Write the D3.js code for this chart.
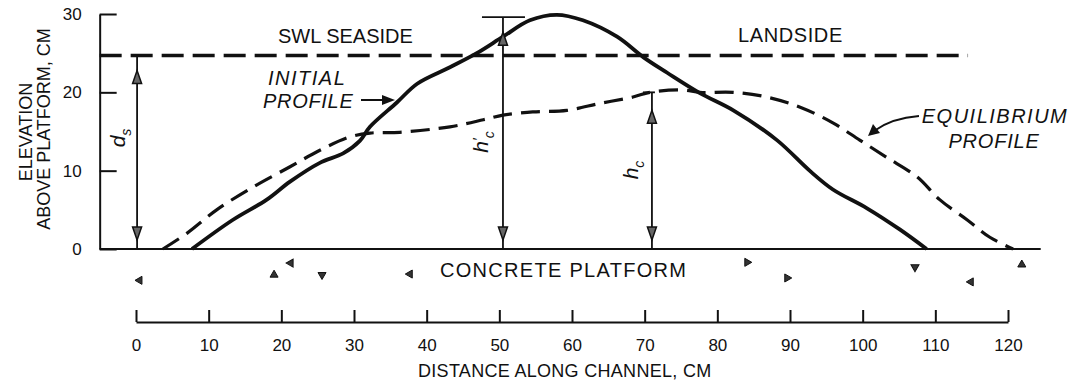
<!DOCTYPE html>
<html>
<head>
<meta charset="utf-8">
<script src="https://cdn.jsdelivr.net/npm/d3@7"></script>
<style>
  body { margin: 0; background: #fff; }
  svg { display: block; font-family: "Liberation Sans", Arial, sans-serif; }
</style>
</head>
<body>
<div id="chart"></div>
<script>
/* Breakwater profile on concrete platform */

const width = 1072, height = 382;

// initial profile (solid), distance cm / elevation cm
const initialX = [7.7, 13.3, 18.0, 21.2, 25.3, 28.5, 30.8, 32.2, 35.9, 38.7, 43.2, 46.9, 50.5, 54.2, 57.9, 61.5, 66.2, 69.8, 73.1, 77.6, 82.2, 88.2, 92.7, 95.9, 100.6, 105.1, 108.8];
const initialY = [0, 3.7, 6.3, 8.6, 11.0, 12.2, 13.8, 15.6, 18.7, 21.1, 23.2, 25.0, 27.1, 29.2, 29.9, 29.2, 27.1, 24.5, 22.5, 19.9, 17.7, 13.9, 10.0, 7.6, 5.2, 2.5, 0];

// equilibrium profile (dashed)
const equilX = [3.7, 7.0, 11.1, 16.1, 21.2, 25.3, 29.4, 32.2, 36.3, 43.2, 47.8, 50.5, 54.6, 59.3, 63.9, 68.4, 70.7, 75.3, 77.6, 82.2, 86.8, 91.4, 95.9, 99.6, 103.3, 107.5, 110.6, 114.4, 117.5, 120.7];
const equilY = [0, 2.0, 5.0, 7.9, 10.5, 12.6, 14.3, 14.8, 14.9, 15.6, 16.5, 17.1, 17.5, 17.7, 18.6, 19.4, 20.0, 20.3, 20.0, 20.0, 19.4, 18.1, 16.1, 13.9, 11.7, 9.2, 6.3, 3.7, 1.5, 0];

// still water level
const swlLevel = 24.7;
const swlExtent = [-5, 114.5];

// dimension arrows: d_s, h'_c, h_c
const dimX = [0.15, 50.5, 71.0];
const dimTop = [swlLevel, 29.6, 20.0];

// concrete aggregate marks under the platform
const aggX = [0.5, 19, 21.3, 25.6, 37.7, 84.1, 89.6, 107.2, 114.9, 121.9];
const aggY = [-4.0, -3.3, -1.8, -3.3, -3.2, -1.7, -3.7, -2.3, -4.2, -2.0];
const aggRot = [-90, 0, 150, 180, -90, 90, 90, -60, -90, 0];

const xTicks = [0, 10, 20, 30, 40, 50, 60, 70, 80, 90, 100, 110, 120];
const yTicks = [0, 10, 20, 30];

const svg = d3.select("#chart")
  .append("svg")
  .attr("width", width)
  .attr("height", height);

let x = d3.scaleLinear().domain([0, 120]).range([136, 1008]);
let y = d3.scaleLinear().domain([0, 30]).range([249, 14]);

const ink = "#111";

/* Axes */
svg.append("g")
  .attr("transform", `translate(${x(-5)},0)`)
  .call(d3.axisLeft(y).tickValues(yTicks).tickSizeInner(-17).tickSizeOuter(0).tickPadding(18))
  .call(g => g.attr("font-family", null).attr("font-size", 17))
  .call(g => g.selectAll("line,path").attr("stroke", ink).attr("stroke-width", 2))
  .call(g => g.selectAll("text").attr("fill", ink));

// platform line
svg.append("line")
  .attr("x1", x(-5)).attr("x2", x(124.5))
  .attr("y1", y(0)).attr("y2", y(0))
  .attr("stroke", ink).attr("stroke-width", 2.2);

svg.append("g")
  .attr("transform", `translate(0,322)`)
  .call(d3.axisBottom(x).tickValues(xTicks).tickSizeInner(-12).tickSizeOuter(0).tickPadding(17))
  .call(g => g.attr("font-family", null).attr("font-size", 17))
  .call(g => g.selectAll("line,path").attr("stroke", ink).attr("stroke-width", 2))
  .call(g => g.selectAll("text").attr("fill", ink));

/* Axis titles */
const yTitle = svg.append("g").attr("font-size", 18).attr("fill", ink).attr("text-anchor", "middle");
yTitle.append("text").attr("transform", "translate(32,132) rotate(-90)").text("ELEVATION");
yTitle.append("text").attr("transform", "translate(50,129) rotate(-90)").text("ABOVE PLATFORM, CM");

svg.append("text")
  .attr("x", 418).attr("y", 377)
  .attr("font-size", 18).attr("letter-spacing", 0.3).attr("fill", ink)
  .text("DISTANCE ALONG CHANNEL, CM");

/* SWL line */
svg.append("line")
  .attr("x1", x(swlExtent[0])).attr("x2", x(swlExtent[1]))
  .attr("y1", y(swlLevel)).attr("y2", y(swlLevel))
  .attr("stroke", ink).attr("stroke-width", 3.5)
  .attr("stroke-dasharray", "22 9");

/* Profiles */
let line = d3.line()
  .x(d => x(d[0]))
  .y(d => y(d[1]))
  .curve(d3.curveCatmullRom.alpha(0.5));

svg.append("path")
  .datum(d3.zip(equilX, equilY))
  .attr("d", line)
  .attr("fill", "none")
  .attr("stroke", ink).attr("stroke-width", 3.2)
  .attr("stroke-dasharray", "19 9");

svg.append("path")
  .datum(d3.zip(initialX, initialY))
  .attr("d", line)
  .attr("fill", "none")
  .attr("stroke", ink).attr("stroke-width", 3.8)
  .attr("stroke-linejoin", "round");

/* Dimension arrows */
const head = (px, py, dir) => {
  // dir -1 = up, 1 = down
  svg.append("path")
    .attr("d", `M${px},${py} L${px - 4.5},${py - dir * 13} L${px + 4.5},${py - dir * 13} Z`)
    .attr("fill", "#666").attr("stroke", ink).attr("stroke-width", 1.5);
};

dimX.forEach((dx, i) => {
  const px = x(dx), top = y(dimTop[i]), bot = y(0);
  svg.append("line")
    .attr("x1", px).attr("x2", px).attr("y1", top).attr("y2", bot)
    .attr("stroke", ink).attr("stroke-width", 1.8);
  head(px, top + (i == 2 ? 18 : 15), -1);
  head(px, bot - 9, 1);
});

// crest bars
svg.append("line")
  .attr("x1", x(dimX[1]) - 21).attr("x2", x(dimX[1]) + 22)
  .attr("y1", y(dimTop[1])).attr("y2", y(dimTop[1]))
  .attr("stroke", ink).attr("stroke-width", 1.8);
svg.append("line")
  .attr("x1", x(dimX[2]) - 9).attr("x2", x(dimX[2]) + 3)
  .attr("y1", y(dimTop[2])).attr("y2", y(dimTop[2]))
  .attr("stroke", ink).attr("stroke-width", 1.8);

// dimension labels
const dimLabel = (px, py, main, sub, prime) => {
  const t = svg.append("text")
    .attr("transform", `translate(${px},${py}) rotate(-90)`)
    .attr("text-anchor", "middle")
    .attr("font-size", 21).attr("font-style", "italic").attr("fill", ink);
  t.append("tspan").text(main);
  if (prime) t.append("tspan").attr("font-size", 15).attr("dy", -5).text("′");
  t.append("tspan").attr("font-size", 14).attr("dy", prime ? 11 : 6).text(sub);
};
dimLabel(x(dimX[0]) - 12, 138, "d", "s", false);
dimLabel(x(dimX[1]) - 15, 142, "h", "c", true);
dimLabel(x(dimX[2]) - 14, 170, "h", "c", false);

/* Text labels */
const label = (tx, ty, txt, opts = {}) => svg.append("text")
  .attr("x", tx).attr("y", ty)
  .attr("font-size", 20)
  .attr("fill", ink)
  .attr("text-anchor", opts.anchor || "start")
  .attr("font-style", opts.italic ? "italic" : null)
  .attr("letter-spacing", opts.ls || 0)
  .text(txt);

label(278, 43, "SWL SEASIDE");
label(738, 42, "LANDSIDE", { ls: 0.6 });
label(268, 85, "INITIAL", { italic: true, ls: 1.5 });
label(263, 108, "PROFILE", { italic: true, ls: 0.7 });
label(995, 123, "EQUILIBRIUM", { italic: true, ls: 1.5, anchor: "middle" });
label(994, 148, "PROFILE", { italic: true, ls: 0.8, anchor: "middle" });
label(440, 277, "CONCRETE PLATFORM", { ls: 1.3 });

// leader arrows
svg.append("line")
  .attr("x1", 361).attr("x2", 384).attr("y1", 100).attr("y2", 100)
  .attr("stroke", ink).attr("stroke-width", 2);
svg.append("path")
  .attr("d", "M395,100 L382,95 L382,105 Z")
  .attr("fill", ink);

svg.append("path")
  .attr("d", "M919,116 Q892,118 874,131")
  .attr("fill", "none").attr("stroke", ink).attr("stroke-width", 2);
svg.append("path")
  .attr("d", "M868,136 L873,124 L880,133 Z")
  .attr("fill", ink);

/* Concrete aggregate */
svg.append("g").selectAll("path")
  .data(d3.range(aggX.length))
  .join("path")
  .attr("transform", i => `translate(${x(aggX[i])},${y(aggY[i])}) rotate(${aggRot[i]})`)
  .attr("d", d3.symbol(d3.symbolTriangle, 28))
  .attr("fill", "#333").attr("stroke", ink).attr("stroke-width", 1);
</script>
</body>
</html>
